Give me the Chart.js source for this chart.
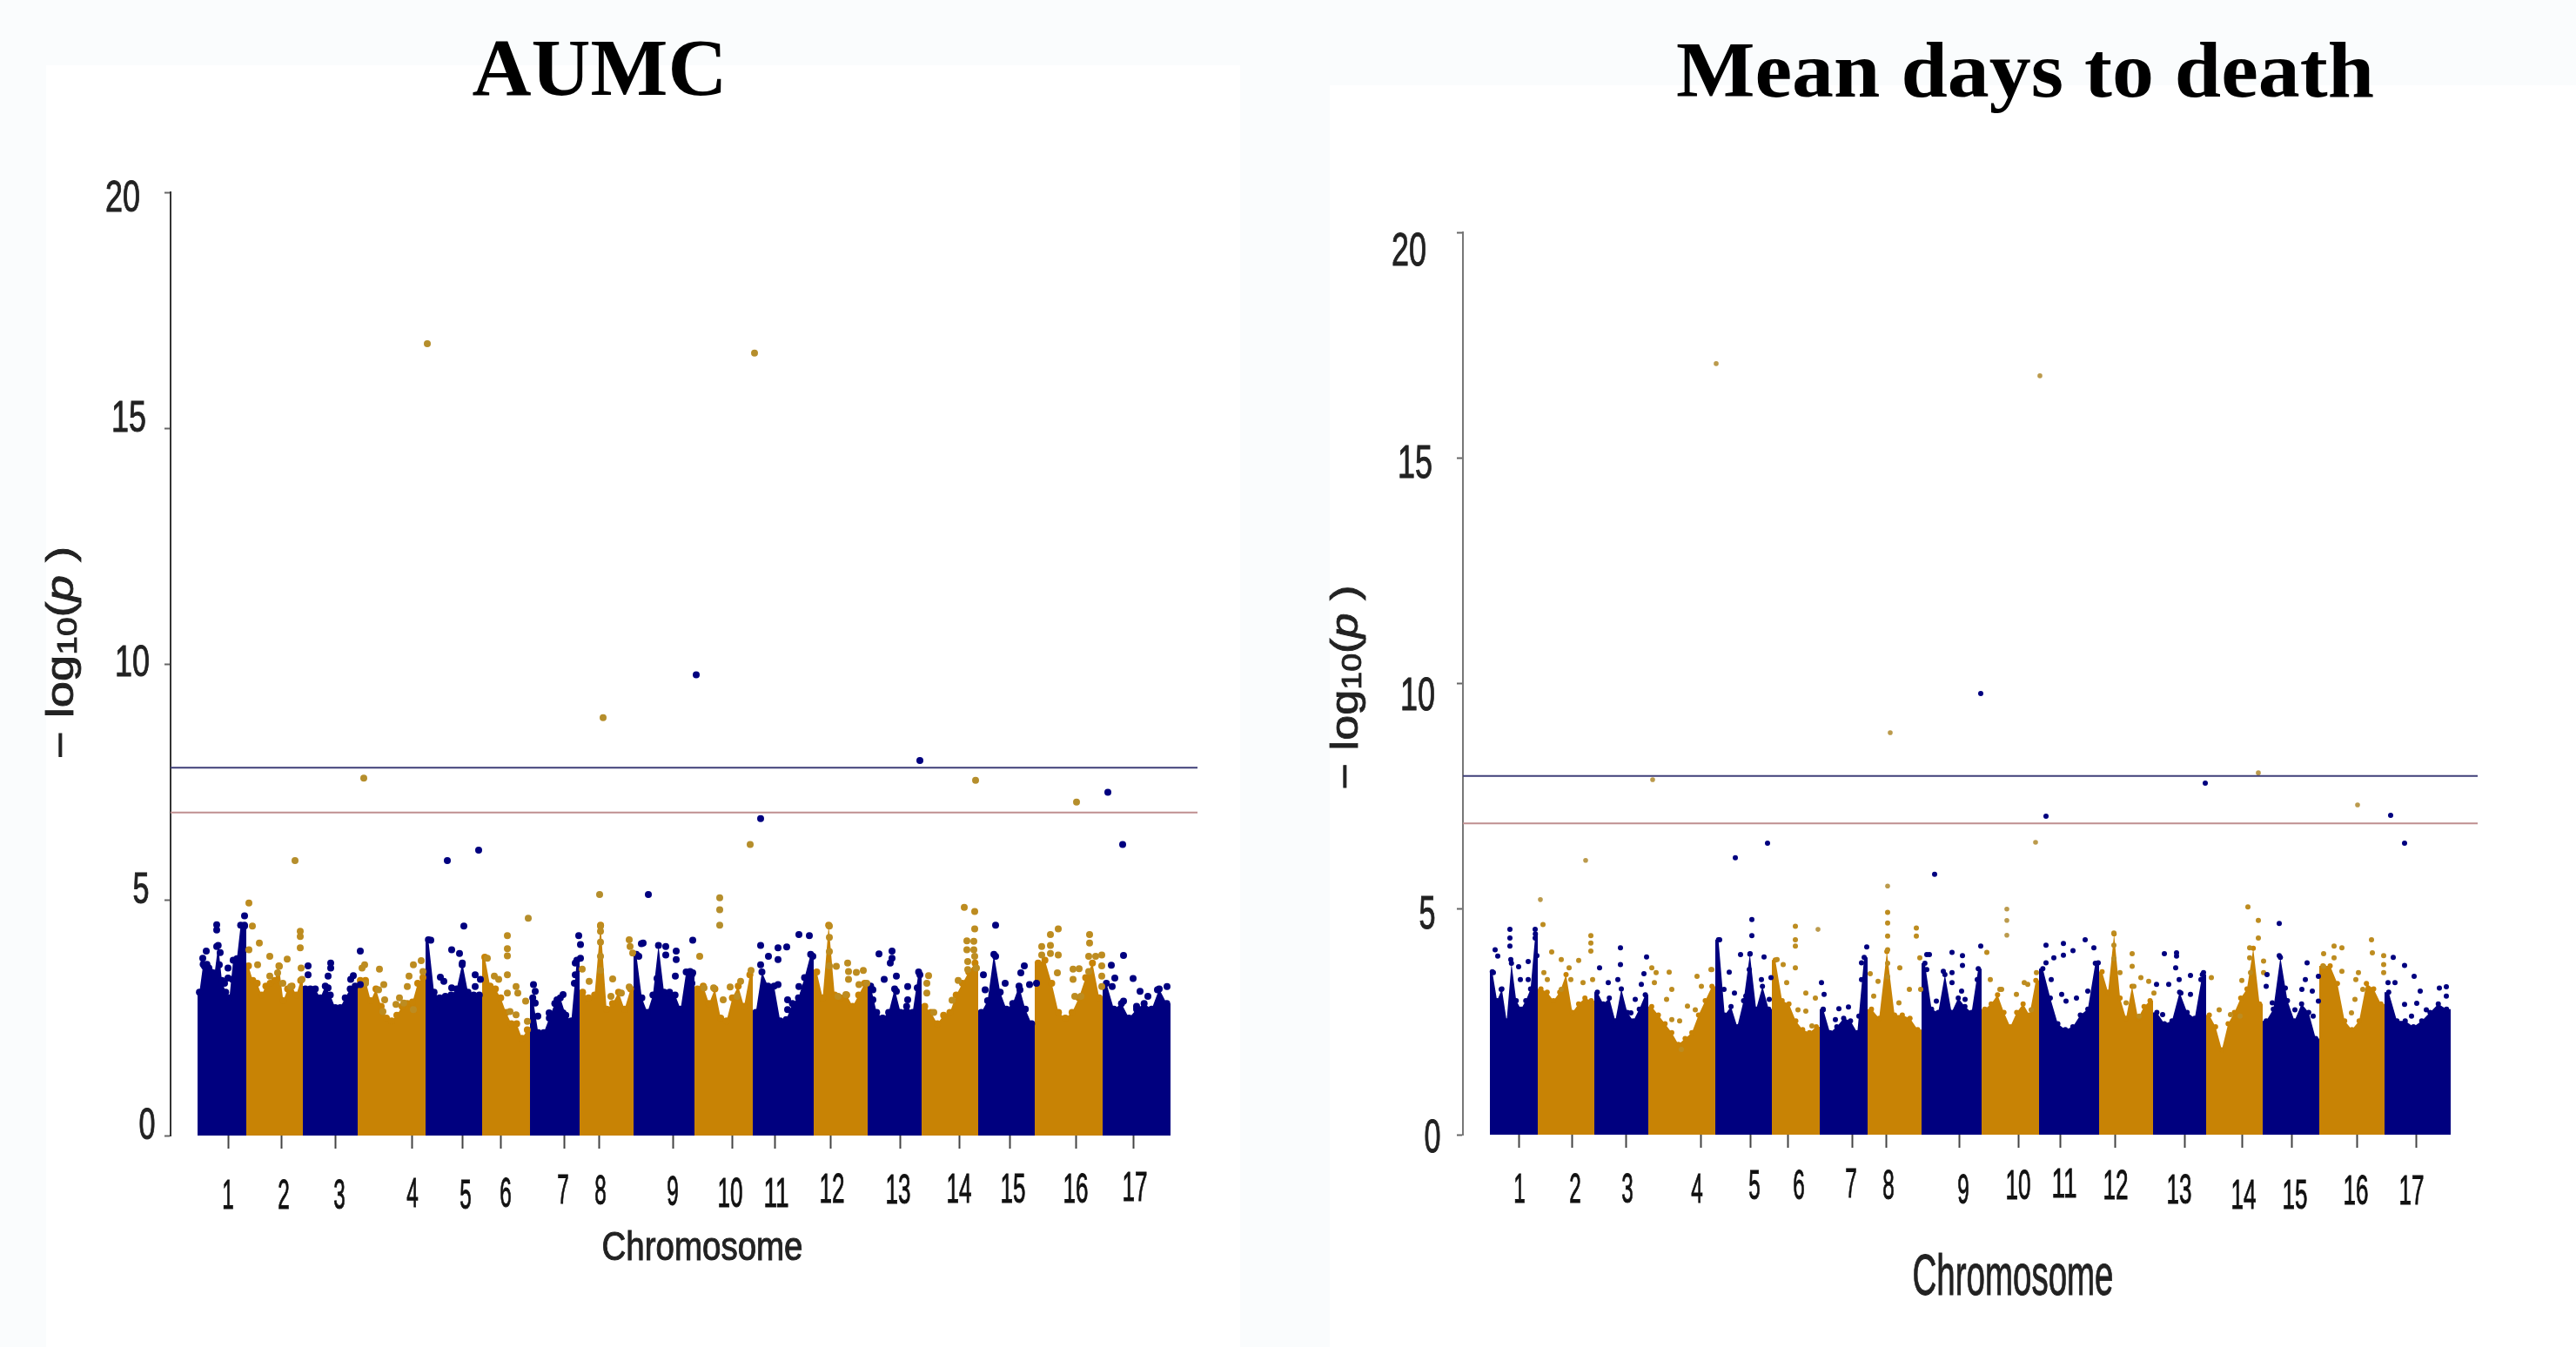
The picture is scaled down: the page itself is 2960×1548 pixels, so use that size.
<!DOCTYPE html>
<html>
<head>
<meta charset="utf-8">
<title>AUMC / Mean days to death</title>
<script src="https://cdn.jsdelivr.net/npm/chart.js@4/dist/chart.umd.min.js"></script>
<style>
  html, body { margin: 0; padding: 0; background: #fafcfd; }
  #page { position: relative; width: 2960px; height: 1548px; overflow: hidden; }
  .panel { position: absolute; background: #fff; }
  canvas { position: absolute; top: 0; }
</style>
</head>
<body>
<div id="page">
  <div class="panel" style="left:53px;top:75px;width:1372px;height:1473px"></div>
  <div class="panel" style="left:1528px;top:98px;width:1432px;height:1450px"></div>
  <canvas id="aumcChart" width="1480" height="1548" style="left:0"></canvas>
  <canvas id="mddChart" width="1480" height="1548" style="left:1480px"></canvas>
</div>
<script>
// values. x is position along the genome, y is -log10(p)
var chromosomes = ['1','2','3','4','5','6','7','8','9','10','11','12','13','14','15','16','17'];
var yTicks = [0, 5, 10, 15, 20];

var aumcStarts = [31,87,152,215,293,358,413,470,532,602,669,739,801,863,928,993,1071,1149];
var aumcTicks = [66,127,189,277,335,379,452,492,577,645,694,758,838,906,964,1040,1106];
var aumcThresholds = [7.8, 6.85];
var aumcBody = [
  [3.04,3.63,3.63,3.47,3.41,4.03,3.29,3.04,2.92,3.72,3.75,4.46,4.46],
  [3.6,3.29,3.23,2.98,3.17,3.23,3.29,3.6,2.86,3.11,3.17,2.98,3.29],
  [3.11,3.11,3.11,2.92,3.17,2.98,2.71,2.71,2.92,3.11,3.17],
  [3.29,3.29,2.86,3.11,2.74,2.49,2.43,2.55,2.74,2.8,2.83,3.23,3.35],
  [4.15,3.04,2.92,2.95,2.98,3.11,3.66,3.04,2.98,2.98],
  [3.78,3.17,3.11,2.92,2.61,2.37,2.37,2.06,2.24],
  [2.92,2.18,2.18,2.49,2.8,2.92,2.55,2.43,3.72],
  [3.04,2.92,2.98,4.46,2.68,2.8,3.04,2.68,3.11],
  [3.84,2.92,2.61,2.98,4.03,3.04,3.04,2.98,2.68,3.47,3.41],
  [3.11,3.17,2.8,3.11,2.49,2.43,2.92,3.17,2.74,3.41],
  [2.61,3.47,3.17,3.17,2.43,2.46,2.8,2.92,3.35,3.84],
  [3.47,2.92,4.46,2.98,2.92,2.98,2.74,2.98,3.23],
  [3.17,2.61,2.49,2.61,3.11,2.61,2.74,2.61,3.47],
  [2.74,2.61,2.37,2.55,2.61,2.98,3.23,3.47,3.66],
  [2.61,2.86,3.84,3.04,2.68,2.8,3.17,2.68,2.37],
  [3.66,3.72,3.23,2.61,2.49,2.61,2.92,3.35,3.66,2.92],
  [3.23,2.68,2.8,2.49,2.68,2.8,2.68,3.11,2.8]
];
var aumcNavy = [
  [53,4.47],[53,4.36],[41,3.91],[37,3.76],[53,4.01],[57,3.88],[66,3.55],[66,3.34],[85,4.66],[85,4.44],[80,3.66],[76,3.66],[39,3.59],[44,3.55],[56,3.62],[71,3.31],[49,3.45],[62,3.23],
  [158,3.6],[158,3.41],[184,3.66],[184,3.55],[181,3.38],[218,3.91],[210,3.39],[207,3.31],[218,3.2],[163,3.09],[181,3.13],
  [299,4.14],[323,3.94],[332,3.86],[337,4.44],[318,5.83],[354,6.05],[335,3.62],[310,3.36],[314,3.27],[350,3.41],[356,3.31],[350,3.16],[323,3.13],[306,2.67],
  [417,3.2],[419,3.06],[419,2.81],[422,2.53],[469,4.24],[471,4.05],[471,3.76],[465,3.66],[465,3.41],[464,3.23],[451,2.99],[444,2.88],[435,2.6],[451,2.6],
  [538,3.8],[541,4.07],[549,5.11],[569,4.01],[569,3.83],[581,3.91],[581,3.73],[559,3.33],[600,4.14],[597,3.48],[600,3.45],[580,3.38],[599,3.23],[561,3.09],[543,4.08],
  [678,4.03],[687,3.8],[698,3.98],[698,3.73],[708,4],[722,4.26],[734,4.24],[678,3.62],[738,3.8],[722,3.16],[698,3.2],[709,2.88],[709,2.67],[727,2.99],[678,6.72],
  [814,3.85],[829,3.91],[829,3.76],[827,3.66],[820,3.31],[834,3.38],[861,3.41],[847,3.16],[858,3.13],[807,3.09],[834,3.06],[847,2.88],[807,2.88],[861,7.95],
  [948,4.46],[934,3.41],[959,3.23],[981,3.6],[977,3.45],[987,3.2],[976,3.09],[936,3.09],[948,3.8],[995,3.23],
  [1095,3.82],[1081,3.61],[1085,3.34],[1106,3.33],[1114,3.06],[1123,2.95],[1134,3.09],[1145,3.16],[1082,3.16],[1095,2.85],[1110,2.74],[1144,2.74],
  [604,9.77],[1077,7.28],[1094,6.17]
];
var aumcGold = [
  [90,4.93],[94,4.44],[102,4.08],[90,3.94],[114,3.8],[100,3.62],[134,3.74],[125,3.59],[114,3.38],[149,4.33],[149,4.22],[149,3.98],[150,3.55],[151,3.31],[123,3.45],[138,3.16],[129,3.23],
  [223,3.62],[220,3.55],[240,3.53],[224,3.23],[245,3.2],[239,3.09],[246,2.88],[244,2.63],[263,2.92],[268,2.81],[279,3.62],[288,3.71],[274,3.38],[290,3.48],[272,3.16],[279,2.67],[259,2.78],
  [364,3.76],[387,4.24],[387,3.96],[387,3.81],[387,3.41],[372,3.38],[377,3.31],[397,3.16],[399,3.02],[387,3.02],[408,2.85],[390,2.63],[397,2.56],[410,2.42],
  [494,4.44],[494,4.33],[494,4.1],[494,3.8],[494,3.5],[473,3.53],[481,3.27],[508,3.32],[527,4.15],[528,4.01],[531,3.87],[527,3.15],[518,3.02],[506,2.95],
  [608,3.8],[613,3.13],[624,3.13],[643,3.15],[655,3.27],[667,3.5],[635,2.88],[651,2.95],
  [757,4.44],[757,4.2],[757,3.9],[757,3.6],[778,3.66],[765,3.59],[779,3.48],[788,3.46],[796,3.5],[779,3.31],[791,3.2],[800,3.23],[776,2.99],[767,2.95],
  [871,3.39],[869,3.23],[869,3.02],[877,2.61],[898,2.87],[905,3.29],[912,4.84],[924,4.75],[924,4.38],[915,4.13],[923,4.12],[915,3.94],[923,3.94],[916,3.69],[924,3.8],[916,3.52],[926,3.55],
  [1001,4.01],[1011,4.26],[1020,4.38],[1011,4.03],[1001,3.83],[1011,3.86],[1020,3.83],[1019,3.45],[1037,3.53],[1044,3.54],[1037,3.31],[1056,4.26],[1056,4.08],[1055,3.8],[1063,3.8],[1070,3.83],[1070,3.6],[1070,3.38],[1055,3.48],[1070,3.16],[1039,2.95],[1046,2.95]
];
var aumcGoldPeaks = [
  [143,5.83],[222,7.58],[295,16.79],[411,4.61],[493,5.11],[497,8.86],[631,5.04],[631,4.79],[631,4.46],[671,16.59],[666,6.17],[925,7.53],[1041,7.07]
];

var mddStarts = [31,86,151,213,290,355,410,465,527,596,662,731,793,854,919,984,1059,1135];
var mddTicks = [64,125,187,273,330,373,447,486,570,638,686,749,829,895,952,1027,1095];
var mddThresholds = [7.95, 6.9];
var mddBody = [
  [3.61,2.97,3.23,2.52,3.8,2.97,2.78,2.97,3.23,4.45],
  [3.23,3.16,2.97,3.16,3.55,2.71,2.9,3.03,2.97],
  [3.16,2.9,3.03,2.52,3.23,2.71,2.52,2.78,3.1],
  [2.84,2.65,2.46,2.26,2,2.13,2.26,2.65,2.97,3.29],
  [4.32,2.65,2.84,2.39,2.97,4,2.78,3.29,2.78],
  [3.87,2.97,2.9,2.52,2.33,2.26,2.39],
  [2.78,2.26,2.39,2.58,2.52,2.26,3.93],
  [2.78,2.58,4.06,2.65,2.65,2.58,2.33],
  [3.8,2.78,2.71,3.55,2.71,3.03,2.84,2.71,3.68],
  [2.78,2.9,3.1,2.71,2.39,2.71,2.9,2.65,3.42],
  [3.68,3.03,2.46,2.33,2.39,2.65,2.78,3.8],
  [3.61,3.16,4.45,3.03,2.58,3.29,2.58,2.84,2.97],
  [2.71,2.46,2.52,3.16,2.71,2.58,3.55],
  [2.65,2.39,1.88,2.46,2.71,3.03,3.23,4.13,2.9],
  [2.52,2.78,3.93,2.97,2.52,2.9,2.71,2.13],
  [3.74,3.74,3.35,2.52,2.33,2.52,3.35,3.23,2.9],
  [3.16,2.52,2.52,2.39,2.52,2.71,2.9,2.78]
];
var mddNavy = [
  [37,4.1],[40,3.96],[54,4.55],[54,4.36],[54,4.18],[83,4.55],[83,4.36],[75,3.84],[85,3.97],[64,3.72],[66,3.44],[35,3.59],[75,3.44],[55,3.88],[44,3.22],
  [157,3.7],[181,4.14],[181,3.77],[178,3.44],[167,3.37],[211,3.94],[208,3.57],[205,3.33],[198,3],[193,2.7],[196,2.41],[173,2.41],
  [295,4.32],[306,3.6],[332,4.77],[332,4.41],[319,3.99],[330,4.01],[346,3.94],[329,3.66],[354,3.48],[343,3.44],[312,3.14],[300,3.22],[325,3.07],[352,3],[303,2.63],[313,6.14],[350,6.46],
  [412,3.37],[415,3.11],[464,4.16],[458,3.81],[458,3.44],[432,2.79],[443,2.83],[428,2.55],[455,2.63],[414,2.77],[423,2.11],[450,2.11],
  [542,5.77],[533,3.99],[536,3.99],[533,3.66],[552,3.62],[562,4.04],[574,3.97],[574,3.75],[562,3.59],[595,4.18],[591,3.44],[573,3.18],[544,2.96],[553,2.92],[562,3.37],[577,3],[595,9.78],
  [670,4.2],[670,3.81],[679,3.92],[690,4.24],[690,3.98],[701,4.08],[715,4.32],[725,4.14],[688,3.11],[693,2.96],[705,3.03],[718,3.18],[730,3.81],[676,3.44],[670,7.06],
  [806,4.01],[820,4.03],[820,3.96],[819,3.7],[823,3.44],[811,3.33],[836,3.53],[848,3.44],[851,3.59],[797,3.33],[825,3.14],[836,3.11],[850,3.07],[804,2.66],[813,2.33],[853,7.79],
  [938,4.68],[938,3.97],[924,3.55],[923,3.29],[945,3.25],[970,3.81],[968,3.44],[976,3.18],[983,3.51],[964,3.22],[983,2.96],[956,2.77],[930,2.92],[977,2.63],
  [1069,3.93],[1082,3.75],[1093,3.51],[1063,3.37],[1071,3.37],[1100,3.18],[1096,2.91],[1082,2.89],[1130,3.28],[1122,3.25],[1130,3.07],[1107,2.77],[1090,2.63],[1066,7.08],[1082,6.46]
];
var mddGold = [
  [92,4.66],[102,4.05],[113,3.88],[133,3.86],[147,4.41],[147,4.25],[147,4.07],[122,3.7],[124,3.44],[93,3.59],[97,3.44],[113,3.22],[138,3.37],[149,3.44],
  [217,3.7],[222,3.59],[237,3.6],[220,3.37],[240,3.22],[234,3],[269,3.51],[285,3.66],[286,3.66],[274,3.29],[258,2.85],[267,2.77],[240,2.55],[249,2.52],[251,1.89],
  [361,3.88],[368,3.77],[382,4.62],[382,4.32],[382,4.18],[382,3.7],[372,3.37],[394,3.14],[405,3.03],[385,2.77],[394,2.74],[401,2.41],
  [488,4.93],[488,4.69],[488,4.4],[488,4.1],[488,3.8],[488,3.5],[521,4.58],[521,4.4],[468,3.57],[477,3.4],[502,3.7],[525,3.92],[513,3.22],[526,3.22],[501,2.92],[472,3.07],
  [602,4.04],[606,3.44],[617,3.22],[645,3.37],[649,3.33],[659,3.59],[636,3.11],[619,3.22],[653,2.77],
  [748,4.47],[748,4.2],[748,3.9],[769,4.01],[769,3.73],[779,3.48],[788,3.4],[755,3.59],[794,3.14],[771,3.29],[762,2.92],[777,2.63],
  [860,3.48],[902,5.05],[914,4.75],[914,4.36],[904,4.14],[904,3.92],[895,3.42],[920,3.85],[920,3.59],[905,3.59],[869,2.77],[882,2.66],[893,2.63],
  [989,4.01],[1001,4.18],[1010,4.14],[1001,3.92],[989,3.73],[1010,3.62],[1044,4.32],[1045,4.03],[1058,3.97],[1058,3.77],[1058,3.59],[1029,3.59],[1026,3.44],[1034,3.22],[1025,3],[1021,2.7]
];
var mddGoldPeaks = [
  [89,5.21],[141,6.08],[218,7.87],[291,17.09],[408,4.55],[488,5.51],[491,8.91],[625,5],[625,4.75],[625,4.42],[658,6.48],[663,16.82],[914,8.02],[1028,7.31]
];

var NAVY = '#00007f';
var GOLD = '#c88305';
var DOT_GOLD = '#bd8c20';

function toPoints(pairs) {
  return pairs.map(function(p) { return {x: p[0], y: p[1]}; });
}

// one filled profile per chromosome, the solid part of the plot
function bodyDatasets(body, starts, radius) {
  return body.map(function(heights, i) {
    var from = starts[i], to = starts[i + 1];
    var pts = [{x: from, y: 0}, {x: from, y: heights[0]}];
    heights.forEach(function(h, k) {
      pts.push({x: from + (k + 0.5) * (to - from) / heights.length, y: h});
    });
    pts.push({x: to, y: heights[heights.length - 1]});
    pts.push({x: to, y: 0});
    var colour = i % 2 === 0 ? NAVY : GOLD;
    return {
      type: 'line', data: pts, fill: 'origin',
      backgroundColor: colour, borderColor: colour, borderWidth: 0,
      pointBackgroundColor: colour, pointBorderWidth: 0,
      // round tops like the overplotted markers, not on the corners
      pointRadius: function(c) {
        var last = pts.length - 1;
        return (c.dataIndex < 2 || c.dataIndex > last - 2) ? 0 : radius;
      },
      order: 5
    };
  });
}

function dots(pairs, colour, radius) {
  return {
    type: 'scatter', data: toPoints(pairs), backgroundColor: colour,
    borderWidth: 0, pointRadius: radius, order: 3
  };
}

function hLine(value, xMax, colour) {
  return {
    type: 'line', data: [{x: 0, y: value}, {x: xMax, y: value}],
    borderColor: colour, borderWidth: 2, pointRadius: 0, order: 1
  };
}

function fitText(ctx, text, cx, cy, width, font, colour, stroke) {
  ctx.save();
  ctx.font = font;
  ctx.fillStyle = colour;
  ctx.strokeStyle = colour;
  ctx.textAlign = 'center';
  ctx.textBaseline = 'middle';
  ctx.translate(cx, cy);
  ctx.scale(width / ctx.measureText(text).width, 1);
  ctx.fillText(text, 0, 0);
  if (stroke) {
    ctx.lineWidth = stroke;
    ctx.strokeText(text, 0, 0);
  }
  ctx.restore();
}

// -log10(p), rotated, with small 10 and italic p
function yTitle(ctx, cx, cy, length) {
  var size = 44, sans = 'Liberation Sans';
  var parts = [
    ['\u2212 log', size + 'px "' + sans + '"', 0],
    ['10', (size * 0.72) + 'px "' + sans + '"', 7],
    ['(', size + 'px "' + sans + '"', 0],
    ['p', 'italic ' + size + 'px "' + sans + '"', 0],
    [' )', size + 'px "' + sans + '"', 0]
  ];
  var total = 0;
  parts.forEach(function(p) { ctx.font = p[1]; total += ctx.measureText(p[0]).width; });
  ctx.save();
  ctx.translate(cx, cy);
  ctx.rotate(-Math.PI / 2);
  ctx.scale(length / total, 1);
  ctx.fillStyle = '#222';
  ctx.strokeStyle = '#222';
  ctx.lineWidth = 0.8;
  ctx.textBaseline = 'middle';
  var x = -total / 2;
  parts.forEach(function(p) {
    ctx.font = p[1];
    ctx.fillText(p[0], x, p[2]);
    ctx.strokeText(p[0], x, p[2]);
    x += ctx.measureText(p[0]).width;
  });
  ctx.restore();
}

// the labels in the picture were pasted by hand, so each one sits a little off its tick
var pastedLabels = {
  id: 'pastedLabels',
  afterDraw: function(chart, args, o) {
    var ctx = chart.ctx, xs = chart.scales.x, ys = chart.scales.y;
    fitText(ctx, o.title, o.titleAt[0], o.titleAt[1], o.titleWidth, 'bold ' + o.titleSize + 'px "Liberation Serif"', '#000');
    fitText(ctx, 'Chromosome', o.xTitleAt[0], o.xTitleAt[1], 231, o.xTitleSize + 'px "Liberation Sans"', '#222', 1);
    yTitle(ctx, o.yTitleAt[0], o.yTitleAt[1], o.yTitleLength);
    chromosomes.forEach(function(c, i) {
      var w = (c.length > 1 ? 29 : 13.5);
      fitText(ctx, c, xs.getPixelForValue(o.ticks[i]) + o.xDx[i], ys.bottom + o.xDy[i], w, '48px "Liberation Sans"', '#111', 1);
    });
    yTicks.forEach(function(v, i) {
      var w = (v > 5 ? 40 : 19);
      fitText(ctx, String(v), xs.left + o.yDx[i], ys.getPixelForValue(v) + o.yDy[i], w, o.yFont + 'px "Liberation Sans"', '#222', 1);
    });
  }
};

function manhattan(id, cfg) {
  var ctx = document.getElementById(id).getContext('2d');
  var data = {
    datasets: [
      hLine(cfg.thresholds[0], cfg.xMax, '#3f3f78'),
      hLine(cfg.thresholds[1], cfg.xMax, '#bf8f90'),
      dots(cfg.navy, NAVY, cfg.radius),
      dots(cfg.gold, DOT_GOLD, cfg.radius),
      dots(cfg.peaks, cfg.peakColour, cfg.radius - cfg.peakShrink)
    ].concat(bodyDatasets(cfg.body, cfg.starts, cfg.radius))
  };
  return new Chart(ctx, {
    type: 'scatter',
    data: data,
    plugins: [pastedLabels],
    options: {
      responsive: false,
      animation: false,
      devicePixelRatio: 1,
      layout: {padding: cfg.padding},
      plugins: {
        legend: {display: false},
        tooltip: {enabled: false},
        pastedLabels: cfg.text
      },
      scales: {
        x: {
          type: 'linear', min: 0, max: cfg.xMax,
          border: {display: false},
          grid: {drawOnChartArea: false, tickLength: 15, color: '#444', tickWidth: 2},
          ticks: {display: false, autoSkip: false},
          afterBuildTicks: function(s) { s.ticks = cfg.ticks.map(function(v) { return {value: v}; }); },
          afterFit: function(s) { s.height = 0; }
        },
        y: {
          type: 'linear', min: 0, max: 20,
          border: {color: cfg.axisColour, width: 2},
          grid: {drawOnChartArea: false, tickLength: 7, color: '#666', tickWidth: 2},
          ticks: {display: false, stepSize: 5},
          afterFit: function(s) { s.width = 0; }
        }
      }
    }
  });
}

manhattan('aumcChart', {
  starts: aumcStarts, ticks: aumcTicks, body: aumcBody, navy: aumcNavy, gold: aumcGold,
  peaks: aumcGoldPeaks, thresholds: aumcThresholds, xMax: 1180,
  radius: 4, peakShrink: 0, peakColour: '#b58e2c', axisColour: '#333',
  padding: {left: 196, right: 104, top: 221, bottom: 243},
  text: {
    title: 'AUMC', titleAt: [689, 85], titleWidth: 293, titleSize: 94,
    xTitleAt: [807, 1435], xTitleSize: 46, yTitleAt: [72, 750], yTitleLength: 244, yFont: 50,
    ticks: aumcTicks,
    xDx: [0,3,5,1,4,6,-1,2,0,-2,2,2,-2,0,4,0,2],
    xDy: [71,71,71,69,71,69,65,66,67,69,69,64,65,64,64,64,62],
    yDx: [-27,-34,-44,-48,-55],
    yDy: [-10,-10,0,-10,8]
  }
});

manhattan('mddChart', {
  starts: mddStarts, ticks: mddTicks, body: mddBody, navy: mddNavy, gold: mddGold,
  peaks: mddGoldPeaks, thresholds: mddThresholds, xMax: 1166,
  radius: 3, peakShrink: 0.2, peakColour: '#bb9a4c', axisColour: '#777',
  padding: {left: 201, right: 113, top: 267, bottom: 244},
  text: {
    title: 'Mean days to death', titleAt: [847, 88], titleWidth: 802, titleSize: 90,
    xTitleAt: [833, 1470], xTitleSize: 66, yTitleAt: [68, 790], yTitleLength: 235, yFont: 54,
    ticks: mddTicks,
    xDx: [1,4,2,-4,5,13,-1,3,5,0,5,1,-6,2,4,-1,-5],
    xDy: [65,65,65,65,61,61,59,61,66,61,59,61,66,72,72,67,67],
    yDx: [-35,-41,-52,-55,-62],
    yDy: [5,7,16,8,23]
  }
});
</script>
</body>
</html>
